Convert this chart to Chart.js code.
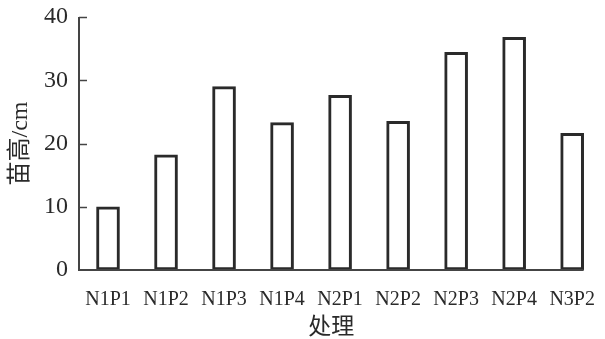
<!DOCTYPE html>
<html>
<head>
<meta charset="utf-8">
<script src="https://cdn.jsdelivr.net/npm/chart.js@4/dist/chart.umd.min.js"></script>
<style>
  html, body { margin: 0; padding: 0; background: #fff; }
  #wrap { width: 605px; height: 339px; }
</style>
</head>
<body>
<div id="wrap"><canvas id="chart"></canvas></div>
<script>
const categories = ['N1P1', 'N1P2', 'N1P3', 'N1P4', 'N2P1', 'N2P2', 'N2P3', 'N2P4', 'N3P2'];
const heights = [10.0, 18.2, 29.0, 23.3, 27.6, 23.5, 34.4, 36.8, 21.6];
const yTicks = [0, 10, 20, 30, 40];
const yTitle = '苗高/cm';
const xTitle = '处理';

const serif = "'Liberation Serif', 'Noto Sans CJK SC', serif";
const ink = '#2a2a2a';

// axis line, inward ticks and x title drawn by hand
const axesPlugin = {
  id: 'axes',
  afterDatasetsDraw(chart) {
    const ctx = chart.ctx;
    const area = chart.chartArea;
    const y = chart.scales.y;
    const bars = chart.getDatasetMeta(0).data;
    const last = bars[bars.length - 1];
    const endX = last.x + last.width / 2;

    ctx.save();
    ctx.strokeStyle = '#444';
    ctx.lineWidth = 2;
    ctx.beginPath();
    ctx.moveTo(area.left, area.top);
    ctx.lineTo(area.left, area.bottom);
    ctx.lineTo(endX, area.bottom);
    ctx.stroke();

    ctx.lineWidth = 1.5;
    yTicks.forEach(v => {
      if (v === 0) return;
      const py = Math.round(y.getPixelForValue(v)) + 0.5;
      ctx.beginPath();
      ctx.moveTo(area.left, py);
      ctx.lineTo(area.left + 8, py);
      ctx.stroke();
    });

    ctx.fillStyle = ink;
    ctx.font = "23px 'Noto Sans CJK SC'";
    ctx.textAlign = 'center';
    ctx.textBaseline = 'middle';
    ctx.fillText(xTitle, (area.left + endX) / 2, 325);
    ctx.restore();
  }
};

new Chart(document.getElementById('chart'), {
  type: 'bar',
  data: {
    labels: categories,
    datasets: [{
      data: heights,
      backgroundColor: '#fff',
      borderColor: ink,
      borderWidth: 3,
      borderSkipped: false,
      barThickness: 23
    }]
  },
  options: {
    responsive: true,
    maintainAspectRatio: false,
    animation: false,
    layout: { padding: { top: 17, right: 1, left: 0, bottom: 0 } },
    plugins: {
      legend: { display: false },
      tooltip: { enabled: false }
    },
    scales: {
      x: {
        grid: { display: false },
        border: { display: false },
        ticks: {
          color: ink,
          font: { family: serif, size: 20 },
          padding: 10,
          maxRotation: 0,
          autoSkip: false
        },
        afterFit(scale) { scale.height = 69; }
      },
      y: {
        min: 0,
        max: 40,
        grid: { display: false, drawTicks: false },
        border: { display: false },
        afterBuildTicks(scale) { scale.ticks = yTicks.map(v => ({ value: v })); },
        ticks: {
          color: ink,
          font: { family: serif, size: 24 },
          padding: 11
        },
        title: {
          display: true,
          text: yTitle,
          color: ink,
          font: { family: serif, size: 24 },
          padding: { top: 6, bottom: 0 }
        },
        afterFit(scale) {
          scale.width = 79;
          scale.paddingTop = 0;
          scale.paddingBottom = 0;
        }
      }
    }
  },
  plugins: [axesPlugin]
});
</script>
</body>
</html>
